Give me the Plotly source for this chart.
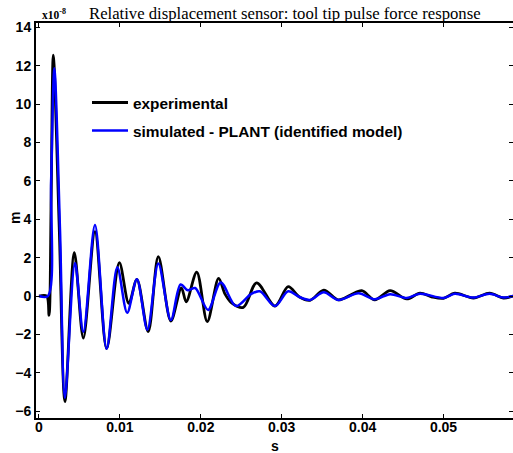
import plotly.graph_objects as go

# Experimental response (x1e-8 m) vs time (s)
t_exp = [0.0, 0.00095, 0.00124, 0.0015, 0.00177, 0.0025, 0.00321, 0.00437, 0.00548, 0.00692,
         0.00836, 0.00993, 0.0111, 0.0121, 0.0135, 0.01475, 0.0163, 0.0176, 0.0182, 0.0195,
         0.0208, 0.0222, 0.0230, 0.0238, 0.02526, 0.0269, 0.02917, 0.0308, 0.0322, 0.0335,
         0.0352, 0.0370, 0.0385, 0.0399, 0.0415, 0.0434, 0.04545, 0.0471, 0.0486, 0.0500,
         0.0514, 0.0537, 0.0557, 0.0574, 0.0586]
y_exp = [0.0, 0.0, -1.0, 5.0, 12.55, 3.6, -5.5, 2.26, -2.19, 3.35,
         -2.73, 1.74, -0.38, 0.87, -1.85, 2.05, -1.3, 0.43, -0.3, 1.25,
         -1.33, 0.92, 0.1, -0.35, -0.59, 0.69, -0.52, 0.49, -0.05, -0.22,
         0.31, -0.2, 0.05, 0.28, -0.2, 0.28, -0.15, 0.15, -0.05, -0.12,
         0.15, -0.1, 0.15, -0.1, 0.0]

# Simulated response - PLANT (identified model)
t_sim = [0.0, 0.0011, 0.0015, 0.0019, 0.0026, 0.0032, 0.00445, 0.00548, 0.00692, 0.00836,
         0.00968, 0.0109, 0.0121, 0.0134, 0.01475, 0.0163, 0.0175, 0.0184, 0.0193, 0.0209,
         0.02246, 0.02435, 0.0262, 0.0273, 0.02917, 0.0308, 0.0322, 0.0335, 0.0352, 0.0370,
         0.0395, 0.0415, 0.0434, 0.04545, 0.0471, 0.0500, 0.0514, 0.0537, 0.0557, 0.0574, 0.0586]
y_sim = [0.0, 0.0, 6.0, 11.86, 3.4, -5.3, 1.72, -1.86, 3.7, -2.75,
         1.5, -0.87, 0.87, -1.75, 1.7, -1.25, 0.6, 0.3, 0.42, -0.72,
         0.71, -0.52, 0.1, 0.25, -0.52, 0.25, -0.05, -0.2, 0.2, -0.2,
         0.15, -0.17, 0.1, -0.1, 0.12, -0.1, 0.12, -0.08, 0.12, -0.08, 0.0]

x_ticks = [0, 0.01, 0.02, 0.03, 0.04, 0.05]
x_labels = ["0", "0.01", "0.02", "0.03", "0.04", "0.05"]
y_ticks = [-6, -4, -2, 0, 2, 4, 6, 8, 10, 12, 14]

L, R, T, B = 36, 513, 23, 418
PW, PH = R - L, B - T


def px(x):
    return (x - L) / PW


def py(y):
    return 1 - (y - T) / PH


fig = go.Figure()
fig.add_trace(go.Scatter(x=t_exp, y=y_exp, mode="lines", name="experimental",
                         line=dict(color="black", width=2.8, shape="spline", smoothing=0.9),
                         legendgroup="a"))
fig.add_trace(go.Scatter(x=t_sim, y=y_sim, mode="lines", name="simulated - PLANT (identified model)",
                         line=dict(color="#0000ff", width=2.5, shape="spline", smoothing=0.9),
                         legendgroup="b"))

axis_font = dict(family="Arial, Liberation Sans", size=14, color="black", weight="bold")

fig.update_layout(
    width=513, height=453,
    margin=dict(l=L, r=513 - R, t=T, b=453 - B, autoexpand=False),
    paper_bgcolor="white", plot_bgcolor="white",
    showlegend=True,
    legend=dict(x=px(87), y=py(86), xanchor="left", yanchor="top",
                bgcolor="rgba(0,0,0,0)", font=dict(family="Arial, Liberation Sans", size=15.4,
                                                     color="black", weight="bold"),
                tracegroupgap=5, itemwidth=36),
    xaxis=dict(range=[-0.00037, 0.05859], tickvals=x_ticks, ticktext=x_labels,
               ticks="inside", ticklen=4, tickwidth=1, tickcolor="black",
               showline=True, linecolor="black", linewidth=2, mirror="allticks",
               showgrid=False, zeroline=False, tickfont=axis_font, automargin=False,
               ticklabelstandoff=-5),
    yaxis=dict(range=[-6.35, 14.22], tickvals=y_ticks,
               ticks="inside", ticklen=4, tickwidth=1, tickcolor="black",
               showline=True, linecolor="black", linewidth=2, mirror="allticks",
               showgrid=False, zeroline=False, tickfont=axis_font, automargin=False),
)

fig.add_annotation(text="s", xref="paper", yref="paper", x=px(275), y=py(446),
                   xanchor="center", yanchor="middle", showarrow=False, font=axis_font)
fig.add_annotation(text="m", xref="paper", yref="paper", x=px(15), y=py(218),
                   xanchor="center", yanchor="middle", textangle=-90, showarrow=False,
                   font=axis_font)
fig.add_annotation(text="Relative displacement sensor: tool tip pulse force response",
                   xref="paper", yref="paper", x=px(87), y=py(13), xanchor="left",
                   yanchor="middle", showarrow=False,
                   font=dict(family="Liberation Serif, Times New Roman", size=16.7, color="black"))
fig.add_annotation(text="<b>x10<sup>-8</sup></b>",
                   xref="paper", yref="paper", x=px(40), y=py(14), xanchor="left",
                   yanchor="middle", showarrow=False,
                   font=dict(family="Liberation Serif, Times New Roman", size=11.5, color="black"))

fig.write_html("out.html", config={"displayModeBar": False},
               post_script="document.body.style.margin='0';document.body.style.padding='0';")
